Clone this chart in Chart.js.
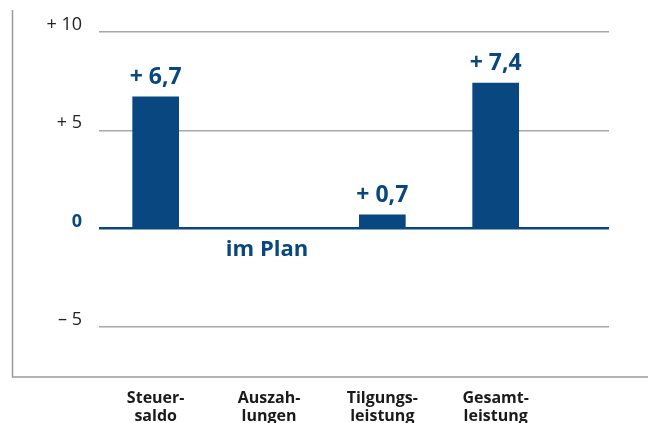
<!DOCTYPE html>
<html>
<head>
<meta charset="utf-8">
<script src="https://cdn.jsdelivr.net/npm/chart.js@4"></script>
<style>
  html, body { margin: 0; padding: 0; background: #fff; }
  #wrap { width: 652px; height: 423px; }
</style>
</head>
<body>
<div id="wrap"><canvas id="chart" width="652" height="423"></canvas></div>
<script>
// Daten
const categories = [['Steuer-', 'saldo'], ['Auszah-', 'lungen'], ['Tilgungs-', 'leistung'], ['Gesamt-', 'leistung']];
const values = [6.7, 0, 0.7, 7.4];
const valueLabels = ['+ 6,7', 'im Plan', '+ 0,7', '+ 7,4'];
const yTicks = [10, 5, 0, -5];
const yTickLabels = ['+ 10', '+ 5', '0', '\u2013 5'];

const BLUE = '#08477f';
const FONT = '"Open Sans", sans-serif';

// Rahmen links und unten
const framePlugin = {
    id: 'frame',
    beforeDraw(chart) {
        const c = chart.ctx;
        const bottom = chart.chartArea.bottom;
        c.save();
        c.strokeStyle = '#9a9a9a';
        c.lineWidth = 1.5;
        c.beginPath();
        c.moveTo(12.5, 10);
        c.lineTo(12.5, bottom);
        c.lineTo(648, bottom);
        c.stroke();
        c.restore();
    }
};

// Werte über den Balken
const valuePlugin = {
    id: 'values',
    afterDatasetsDraw(chart) {
        const c = chart.ctx;
        const meta = chart.getDatasetMeta(0);
        const yScale = chart.scales.y;
        c.save();
        c.fillStyle = BLUE;
        c.textAlign = 'center';
        meta.data.forEach((bar, i) => {
            if (values[i] === 0) {
                c.font = 'bold 22px ' + FONT;
                c.textBaseline = 'top';
                c.fillText(valueLabels[i], bar.x - 2, yScale.getPixelForValue(0) + 10);
            } else {
                c.font = 'bold 23px ' + FONT;
                c.textBaseline = 'alphabetic';
                c.fillText(valueLabels[i], bar.x, bar.y - 13);
            }
        });
        c.restore();
    }
};

new Chart(document.getElementById('chart'), {
    type: 'bar',
    data: {
        datasets: [{
            data: categories.map((c, i) => ({ x: i, y: values[i] })),
            backgroundColor: BLUE,
            barThickness: 46
        }]
    },
    options: {
        responsive: false,
        animation: false,
        layout: { padding: { top: 32, right: 43, left: 0, bottom: 0 } },
        plugins: { legend: { display: false }, tooltip: { enabled: false } },
        scales: {
            x: {
                type: 'linear',
                offset: false,
                min: -0.5,
                max: 4,
                grid: { display: false, offset: false },
                border: { display: false },
                afterBuildTicks: (scale) => { scale.ticks = categories.map((c, i) => ({ value: i })); },
                afterFit: (scale) => { scale.height = 46; },
                ticks: {
                    autoSkip: false,
                    maxRotation: 0,
                    padding: 4,
                    color: '#1a1a1a',
                    font: { family: FONT, size: 16, weight: 'bold', lineHeight: 1.15 },
                    callback: (v) => categories[v]
                }
            },
            y: {
                min: -7.55,
                max: 10,
                afterBuildTicks: (scale) => { scale.ticks = yTicks.map(v => ({ value: v })); },
                afterFit: (scale) => { scale.width = 99; },
                border: { display: false },
                grid: {
                    drawTicks: false,
                    color: (ctx) => ctx.tick && ctx.tick.value === 0 ? BLUE : '#a8a8a8',
                    lineWidth: (ctx) => ctx.tick && ctx.tick.value === 0 ? 2.5 : 1.5
                },
                ticks: {
                    padding: 17,
                    labelOffset: -7,
                    color: (ctx) => ctx.tick.value === 0 ? BLUE : '#222',
                    font: (ctx) => ({ family: FONT, size: 18, weight: ctx.tick && ctx.tick.value === 0 ? 'bold' : 'normal' }),
                    callback: (v) => yTickLabels[yTicks.indexOf(v)]
                }
            }
        }
    },
    plugins: [framePlugin, valuePlugin]
});
</script>
</body>
</html>
